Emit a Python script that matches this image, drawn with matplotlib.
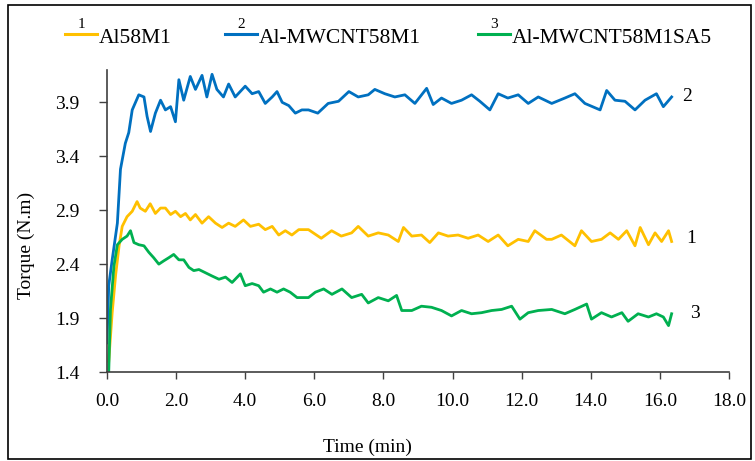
import matplotlib
matplotlib.use("Agg")
import matplotlib.pyplot as plt
from matplotlib.lines import Line2D
from matplotlib.patches import Rectangle

plt.rcParams['font.family'] = ['Liberation Serif', 'DejaVu Serif']

# series 1: Al58M1
t1 = [0.05, 0.15, 0.25, 0.35, 0.44, 0.58, 0.73, 0.87, 0.96, 1.11,
      1.25, 1.4, 1.55, 1.69, 1.84, 1.98, 2.13, 2.27, 2.41, 2.56,
      2.75, 2.94, 3.14, 3.33, 3.52, 3.71, 3.95, 4.15, 4.39, 4.58,
      4.78, 4.97, 5.16, 5.35, 5.55, 5.83, 6.2, 6.5, 6.78, 7.08,
      7.27, 7.56, 7.85, 8.14, 8.43, 8.58, 8.82, 9.1, 9.34, 9.59,
      9.87, 10.16, 10.45, 10.74, 11.03, 11.32, 11.6, 11.9, 12.19, 12.38,
      12.72, 12.87, 13.15, 13.54, 13.73, 14.02, 14.31, 14.56, 14.8, 15.04,
      15.28, 15.43, 15.67, 15.86, 16.05, 16.25, 16.34]
v1 = [1.50, 1.95, 2.30, 2.57, 2.75, 2.84, 2.89, 2.98, 2.92, 2.89,
      2.96, 2.87, 2.92, 2.92, 2.86, 2.89, 2.84, 2.87, 2.81, 2.86,
      2.78, 2.84, 2.78, 2.74, 2.78, 2.75, 2.81, 2.75, 2.77, 2.72,
      2.75, 2.67, 2.71, 2.67, 2.72, 2.72, 2.64, 2.71, 2.66, 2.69,
      2.75, 2.66, 2.69, 2.67, 2.61, 2.74, 2.66, 2.67, 2.60, 2.69,
      2.66, 2.67, 2.64, 2.67, 2.61, 2.67, 2.57, 2.63, 2.61, 2.71,
      2.63, 2.63, 2.67, 2.57, 2.71, 2.61, 2.63, 2.69, 2.63, 2.71,
      2.57, 2.74, 2.58, 2.69, 2.61, 2.71, 2.61]

# series 2: Al-MWCNT58M1
t2 = [0.0, 0.05, 0.15, 0.3, 0.39, 0.53, 0.63, 0.73, 0.92, 1.07,
      1.16, 1.26, 1.4, 1.55, 1.69, 1.84, 1.98, 2.08, 2.22, 2.41,
      2.56, 2.75, 2.89, 3.04, 3.18, 3.37, 3.52, 3.71, 4.0, 4.2,
      4.39, 4.58, 4.78, 4.92, 5.07, 5.26, 5.45, 5.64, 5.83, 6.1,
      6.4, 6.7, 7.0, 7.27, 7.56, 7.75, 8.04, 8.33, 8.62, 8.91,
      9.25, 9.44, 9.68, 9.97, 10.26, 10.55, 10.79, 11.08, 11.32, 11.6,
      11.9, 12.19, 12.48, 12.87, 13.25, 13.54, 13.83, 14.27, 14.46, 14.7,
      14.99, 15.28, 15.57, 15.9, 16.1, 16.34]
v2 = [1.67, 2.20, 2.44, 2.78, 3.28, 3.52, 3.62, 3.83, 3.97, 3.95,
      3.77, 3.63, 3.80, 3.92, 3.83, 3.86, 3.72, 4.11, 3.92, 4.14,
      4.02, 4.15, 3.95, 4.16, 4.02, 3.95, 4.07, 3.95, 4.05, 3.98,
      4.00, 3.89, 3.95, 4.00, 3.90, 3.87, 3.80, 3.83, 3.83, 3.80,
      3.89, 3.91, 4.00, 3.95, 3.97, 4.02, 3.98, 3.95, 3.97, 3.89,
      4.03, 3.88, 3.94, 3.89, 3.92, 3.97, 3.91, 3.83, 3.98, 3.94,
      3.97, 3.89, 3.95, 3.89, 3.94, 3.98, 3.89, 3.83, 4.01, 3.92,
      3.91, 3.83, 3.92, 3.98, 3.86, 3.95]

# series 3: Al-MWCNT58M1SA5
t3 = [0.05, 0.1, 0.2, 0.3, 0.44, 0.58, 0.68, 0.78, 0.92, 1.07,
      1.21, 1.35, 1.5, 1.64, 1.79, 1.93, 2.08, 2.22, 2.37, 2.51,
      2.66, 2.85, 3.04, 3.24, 3.43, 3.62, 3.86, 4.0, 4.2, 4.39,
      4.53, 4.73, 4.92, 5.11, 5.3, 5.5, 5.83, 6.03, 6.27, 6.51,
      6.8, 7.08, 7.37, 7.56, 7.85, 8.14, 8.38, 8.53, 8.82, 9.1,
      9.39, 9.68, 9.97, 10.26, 10.55, 10.84, 11.13, 11.42, 11.71, 11.95,
      12.19, 12.48, 12.87, 13.25, 13.54, 13.88, 14.02, 14.31, 14.6, 14.9,
      15.08, 15.37, 15.67, 15.9, 16.1, 16.25, 16.34]
v3 = [1.40, 1.98, 2.38, 2.58, 2.63, 2.66, 2.71, 2.60, 2.58, 2.57,
      2.51, 2.46, 2.40, 2.43, 2.46, 2.49, 2.44, 2.44, 2.37, 2.34,
      2.35, 2.32, 2.29, 2.26, 2.28, 2.23, 2.31, 2.20, 2.22, 2.20,
      2.14, 2.17, 2.14, 2.17, 2.14, 2.09, 2.09, 2.14, 2.17, 2.12,
      2.17, 2.09, 2.12, 2.04, 2.09, 2.06, 2.11, 1.97, 1.97, 2.01,
      2.00, 1.97, 1.92, 1.97, 1.94, 1.95, 1.97, 1.98, 2.01, 1.89,
      1.95, 1.97, 1.98, 1.94, 1.98, 2.03, 1.89, 1.95, 1.91, 1.95,
      1.87, 1.94, 1.91, 1.94, 1.91, 1.83, 1.94]

names = ['Al58M1', 'Al-MWCNT58M1', 'Al-MWCNT58M1SA5']
colors = ['#FFC000', '#0070C0', '#00B050']
xticks = [0, 2, 4, 6, 8, 10, 12, 14, 16, 18]
yticks = [1.4, 1.9, 2.4, 2.9, 3.4, 3.9]

W, H = 755, 461
fig = plt.figure(figsize=(W / 100, H / 100), dpi=100)
ax = fig.add_axes([107 / W, 1 - 372 / H, 622 / W, 302 / H])

ax.plot(t1, v1, color=colors[0], lw=2.0)
ax.plot(t2, v2, color=colors[1], lw=2.0)
ax.plot(t3, v3, color=colors[2], lw=2.0)

# curve numbers at the right end
ax.text(16.8, 3.95, '2', fontsize=14, ha='center', va='center')
ax.text(16.9, 2.64, '1', fontsize=14, ha='center', va='center')
ax.text(17.0, 1.94, '3', fontsize=14, ha='center', va='center')

ax.set_xlim(0, 18)
ax.set_ylim(1.4, 4.2)
ax.set_xticks(xticks)
ax.set_xticklabels(['%.1f' % x for x in xticks])
ax.set_yticks(yticks)
ax.set_yticklabels(['%.1f' % y for y in yticks])
ax.tick_params(axis='x', direction='out', length=5, width=1, pad=10,
               labelsize=14, color='#404040')
ax.tick_params(axis='y', direction='out', length=6, width=1, pad=14,
               labelsize=14, color='#404040')
for s in ['top', 'right']:
    ax.spines[s].set_visible(False)
for s in ['left', 'bottom']:
    ax.spines[s].set_color('#404040')
    ax.spines[s].set_linewidth(1.2)

ax.set_xlabel('Time (min)', fontsize=14, va='center')
ax.xaxis.set_label_coords(0.418, -0.248)
ax.set_ylabel('Torque (N.m)', fontsize=14, va='center')
ax.yaxis.set_label_coords(-0.129, 0.42)

# legend drawn by hand: short line, number above, name to the right
leg_x = [(65, 97, 99), (225, 257, 259), (478, 510, 512)]
for (x0, x1, xt), c, name, num in zip(leg_x, colors, names, ['1', '2', '3']):
    fig.add_artist(Line2D([x0 / W, x1 / W], [1 - 34 / H, 1 - 34 / H],
                          color=c, lw=2.2, transform=fig.transFigure))
    fig.text((x0 + x1) / 2 / W, 1 - 25 / H, num, fontsize=11,
             ha='center', va='center')
    fig.text(xt / W, 1 - 43 / H, name, fontsize=15.5, ha='left', va='baseline')

# outer frame
fig.add_artist(Rectangle((8 / W, 2 / H), 743 / W, 454 / H, fill=False,
                         edgecolor='black', lw=1.2, transform=fig.transFigure))

fig.savefig('out.png', dpi=100)
